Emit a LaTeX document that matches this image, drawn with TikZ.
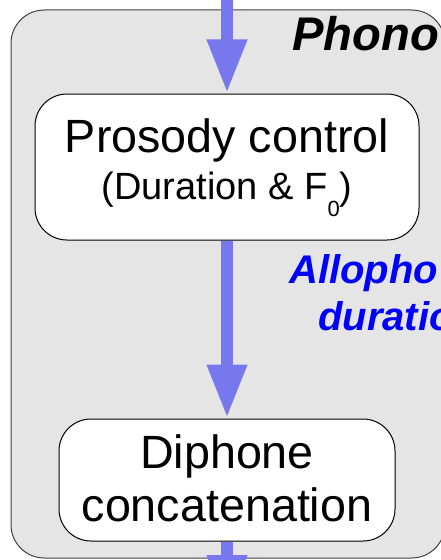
\documentclass[tikz,border=0pt]{standalone}
\usepackage{fontspec}
\setmainfont{Liberation Sans}
\usetikzlibrary{arrows.meta,positioning}
\definecolor{flowblu}{RGB}{119,119,238}
\definecolor{labblu}{RGB}{0,0,255}
\definecolor{panelgray}{RGB}{229,229,229}

\begin{document}
\begin{tikzpicture}[x=0.75pt,y=0.75pt,yscale=-1,xscale=1,
	stage/.style={draw=black, fill=white, rounded corners=24pt, line width=0.75pt, inner sep=0pt, align=center},
	flow/.style={draw=flowblu, line width=9.4pt, -{Triangle[length=40.5pt,width=27.75pt]}},
	blulabel/.style={anchor=base west, inner sep=0pt, text=labblu, font=\fontsize{30}{30}\selectfont\bfseries\itshape}]
		%set diagram to 441 x 560
		\useasboundingbox (0,0) rectangle (441,560);
		\clip (0,0) rectangle (441,560);

		% grey panel, runs off the right and bottom
		\draw [draw=black!75, fill=panelgray, line width=0.75pt, rounded corners=25pt] (11,10) rectangle (445,558);
		\node [anchor=base west, inner sep=0pt, font=\fontsize{35.4}{35.4}\selectfont\bfseries\itshape] (title) at (292,51) {Phono};

		\node [stage, minimum width=288pt, minimum height=109.5pt, text depth=12pt, font=\fontsize{35}{35.25}\selectfont] (prosody) at (227,167)
			{Prosody control\\
			 \fontsize{28.5}{35.25}\selectfont (Duration \& F\raisebox{-12.5pt}[0pt][0pt]{\fontsize{16.5}{16.5}\selectfont 0})};
		\node [stage, minimum width=252pt, minimum height=91.5pt, text depth=3pt, font=\fontsize{35}{39.75}\selectfont, below=133.5pt of prosody] (diphone)
			{Diphone\\ concatenation};

		\coordinate (feed) at (227,0);
		\coordinate (out) at (227,609);
		\draw [flow] (feed) -- (prosody.north);
		\draw [flow] (prosody.south) -- (diphone.north);
		\draw [flow] (diphone.south) -- (out);

		\node [blulabel] (allo) at (289,283) {Allopho};
		\node [blulabel] (dur) at (318,330) {duratio};
\end{tikzpicture}
\end{document}
